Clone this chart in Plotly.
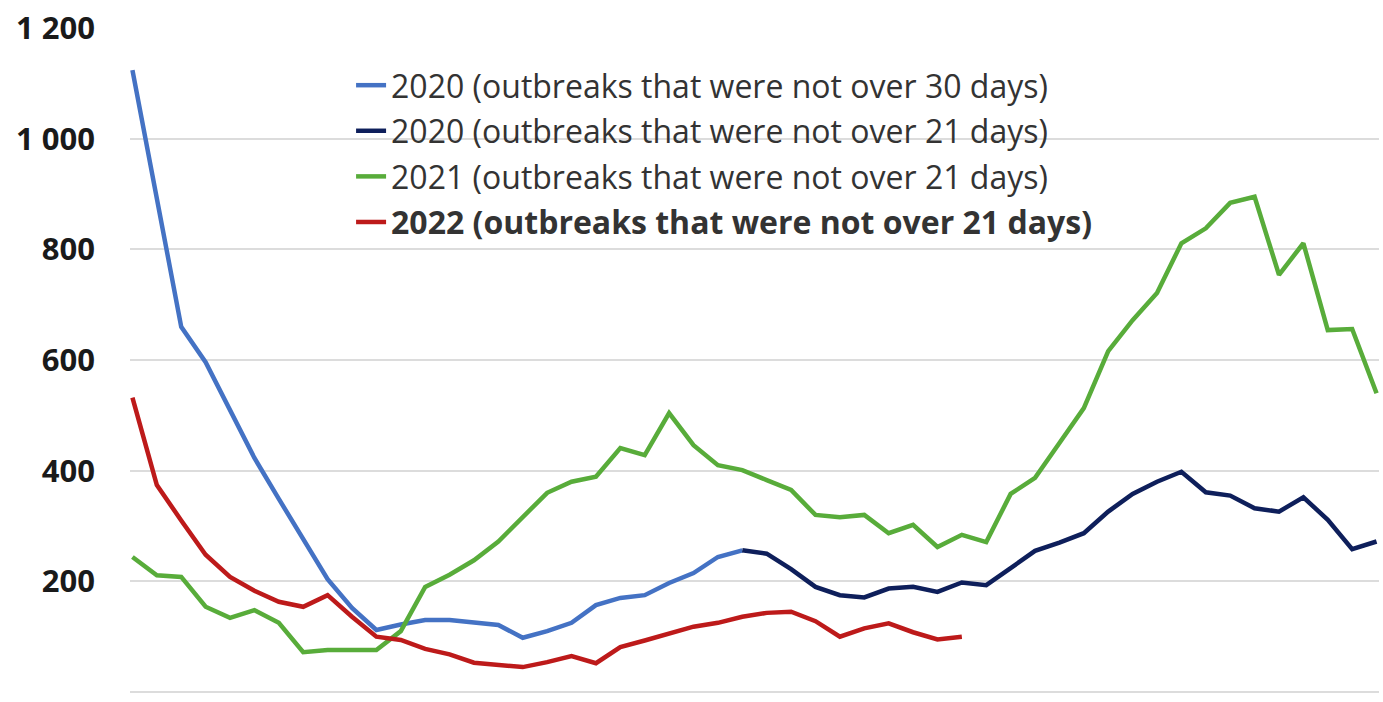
import plotly.graph_objects as go

# Week number of the year (x axis, no labels shown)
weeks = list(range(1, 53))

# 2020 – outbreaks not over 30 days (weeks 1-26)
weeks_2020_30 = list(range(1, 27))
outbreaks_2020_30 = [1124, 892, 660, 596, 508, 423, 349, 275, 204, 152,
                     112, 122, 130, 130, 125, 121, 98, 110, 125, 157,
                     170, 175, 197, 215, 244, 256]

# 2020 – outbreaks not over 21 days (weeks 26-52)
weeks_2020_21 = list(range(26, 53))
outbreaks_2020_21 = [256, 250, 222, 190, 175, 171, 187, 190, 181, 198,
                     193, 224, 255, 270, 287, 326, 358, 380, 398, 361,
                     355, 332, 326, 352, 311, 258, 272]

# 2021 – outbreaks not over 21 days (weeks 1-52)
outbreaks_2021 = [244, 211, 208, 154, 134, 148, 125, 72, 76, 76,
                  76, 110, 190, 212, 238, 272, 316, 360, 380, 389,
                  441, 428, 504, 446, 410, 401, 383, 365, 320, 316,
                  320, 287, 302, 262, 284, 271, 358, 387, 450, 513,
                  616, 672, 721, 811, 838, 884, 895, 754, 811, 654,
                  656, 540]

# 2022 – outbreaks not over 21 days (weeks 1-35)
weeks_2022 = list(range(1, 36))
outbreaks_2022 = [532, 374, 310, 248, 208, 183, 163, 154, 175, 136,
                  100, 94, 78, 68, 53, 48, 45, 54, 65, 52,
                  81, 93, 106, 118, 125, 136, 143, 145, 128, 100,
                  115, 124, 108, 95, 100]

y_ticks = [0, 200, 400, 600, 800, 1000, 1200]
y_tick_text = ["0", "200", "400", "600", "800", "1 000", "1 200"]

series = [
    ("2020 (outbreaks that were not over 30 days)", weeks_2020_30, outbreaks_2020_30, "#4472C4"),
    ("2020 (outbreaks that were not over 21 days)", weeks_2020_21, outbreaks_2020_21, "#0E1F5B"),
    ("2021 (outbreaks that were not over 21 days)", weeks, outbreaks_2021, "#58AC3A"),
    ("<b>2022 (outbreaks that were not over 21 days)</b>", weeks_2022, outbreaks_2022, "#BD1A1A"),
]

fig = go.Figure()
for i, (name, xs, ys, color) in enumerate(series):
    fig.add_trace(go.Scatter(
        x=xs, y=ys, name=name, mode="lines",
        line=dict(color=color, width=4.5),
        legendgroup=f"g{i}",
    ))

fig.update_layout(
    width=1383, height=702,
    margin=dict(l=130, r=4, t=28, b=10),
    plot_bgcolor="white", paper_bgcolor="white",
    showlegend=True,
    legend=dict(
        x=0.177, y=0.955, xanchor="left", yanchor="top",
        font=dict(family="Open Sans", size=32, color="#333333"),
        bgcolor="rgba(0,0,0,0)",
        tracegroupgap=1,
    ),
    xaxis=dict(range=[0.9, 52.1], showgrid=False, zeroline=False,
               showline=False, showticklabels=False, ticks=""),
    yaxis=dict(range=[0, 1200], tickvals=y_ticks, ticktext=y_tick_text,
               showgrid=True, gridcolor="#dcdcdc", gridwidth=2,
               zeroline=True, zerolinecolor="#dcdcdc", zerolinewidth=2,
               showline=False, ticks="", ticklabelstandoff=34,
               tickfont=dict(family="Open Sans", size=31, color="#1a1a1a",
                             weight="bold")),
)

fig.write_html("out.html")
